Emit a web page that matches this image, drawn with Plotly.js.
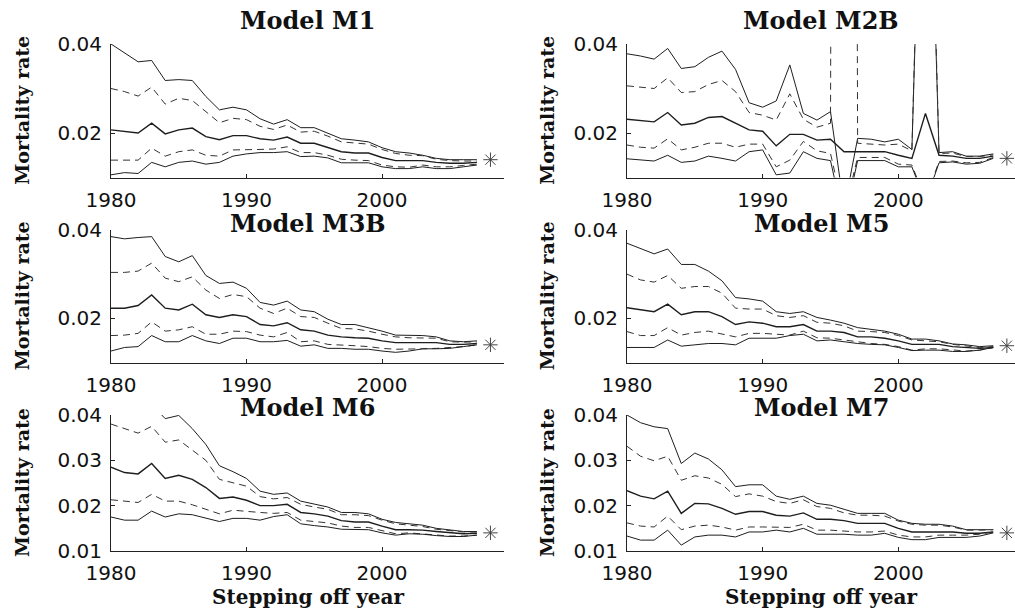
<!DOCTYPE html>
<html>
<head>
<meta charset="utf-8">
<script src="https://cdn.plot.ly/plotly-3.0.1.min.js"></script>
<style>
html,body{margin:0;padding:0;background:#fff;}
#chart{width:1015px;height:610px;}
</style>
</head>
<body>
<div id="chart"></div>
<script>
// Stepping-off years
const years = [1980,1981,1982,1983,1984,1985,1986,1987,1988,1989,1990,1991,1992,1993,
               1994,1995,1996,1997,1998,1999,2000,2001,2002,2003,2004,2005,2006,2007];
const obsYear = [2008];
const titles = ['Model M1','Model M2B','Model M3B','Model M5','Model M6','Model M7'];
const observed = [0.0140, 0.0143, 0.0140, 0.0138, 0.0140, 0.0140];

// Model M1
const m1Upper     = [0.0400,0.0380,0.0360,0.0363,0.0318,0.0320,0.0318,0.0282,0.0252,0.0258,0.0252,0.0232,0.0220,0.0230,0.0212,0.0212,0.0200,0.0187,0.0184,0.0180,0.0167,0.0158,0.0155,0.0150,0.0143,0.0140,0.0140,0.0140];
const m1UpperDash = [0.0300,0.0293,0.0283,0.0303,0.0265,0.0278,0.0273,0.0248,0.0223,0.0233,0.0230,0.0215,0.0208,0.0218,0.0202,0.0204,0.0193,0.0180,0.0178,0.0175,0.0163,0.0154,0.0150,0.0149,0.0141,0.0138,0.0137,0.0137];
const m1Mid       = [0.0207,0.0203,0.0200,0.0222,0.0198,0.0207,0.0211,0.0192,0.0185,0.0194,0.0194,0.0187,0.0184,0.0191,0.0177,0.0177,0.0168,0.0158,0.0155,0.0155,0.0145,0.0138,0.0138,0.0138,0.0134,0.0132,0.0132,0.0134];
const m1LowerDash = [0.0139,0.0139,0.0139,0.0166,0.0148,0.0158,0.0162,0.0150,0.0148,0.0162,0.0162,0.0163,0.0164,0.0169,0.0156,0.0156,0.0150,0.0141,0.0139,0.0138,0.0128,0.0124,0.0123,0.0128,0.0124,0.0124,0.0127,0.0130];
const m1Lower     = [0.0106,0.0111,0.0109,0.0134,0.0124,0.0134,0.0137,0.0130,0.0134,0.0148,0.0153,0.0156,0.0156,0.0158,0.0147,0.0148,0.0144,0.0133,0.0133,0.0133,0.0124,0.0120,0.0120,0.0124,0.0120,0.0120,0.0124,0.0128];

// Model M2B
const m2Upper     = [0.0378,0.0373,0.0366,0.0390,0.0345,0.0349,0.0370,0.0384,0.0343,0.0268,0.0258,0.0272,0.0353,0.0244,0.0229,0.0248,0.0030,0.0188,0.0186,0.0180,0.0186,0.0163,0.1200,0.0156,0.0158,0.0148,0.0148,0.0153];
const m2UpperDash = [0.0306,0.0303,0.0300,0.0324,0.0291,0.0293,0.0309,0.0318,0.0293,0.0246,0.0240,0.0229,0.0288,0.0231,0.0213,0.0222,1.0000,0.0177,0.0175,0.0173,0.0175,0.0160,0.1300,0.0154,0.0155,0.0147,0.0147,0.0151];
const m2Mid       = [0.0231,0.0228,0.0225,0.0246,0.0218,0.0222,0.0235,0.0237,0.0222,0.0207,0.0204,0.0171,0.0197,0.0197,0.0184,0.0186,0.0158,0.0158,0.0158,0.0158,0.0150,0.0143,0.0244,0.0150,0.0148,0.0143,0.0143,0.0148];
const m2LowerDash = [0.0173,0.0168,0.0166,0.0187,0.0162,0.0168,0.0177,0.0177,0.0168,0.0175,0.0175,0.0124,0.0139,0.0181,0.0160,0.0154,0.0020,0.0145,0.0145,0.0145,0.0130,0.0128,0.0050,0.0136,0.0137,0.0133,0.0134,0.0145];
const m2Lower     = [0.0142,0.0139,0.0137,0.0150,0.0134,0.0137,0.0148,0.0143,0.0137,0.0158,0.0162,0.0106,0.0110,0.0158,0.0143,0.0138,0.0000,0.0138,0.0138,0.0138,0.0124,0.0124,0.0045,0.0133,0.0135,0.0130,0.0132,0.0143];

// Model M3B
const m3Upper     = [0.0385,0.0380,0.0383,0.0385,0.0340,0.0328,0.0342,0.0297,0.0279,0.0282,0.0268,0.0236,0.0230,0.0239,0.0219,0.0215,0.0198,0.0186,0.0186,0.0179,0.0171,0.0162,0.0161,0.0161,0.0158,0.0149,0.0147,0.0149];
const m3UpperDash = [0.0304,0.0304,0.0307,0.0325,0.0291,0.0283,0.0294,0.0264,0.0245,0.0254,0.0249,0.0223,0.0211,0.0223,0.0204,0.0202,0.0189,0.0177,0.0176,0.0171,0.0164,0.0158,0.0156,0.0156,0.0155,0.0147,0.0146,0.0147];
const m3Mid       = [0.0223,0.0223,0.0229,0.0253,0.0223,0.0219,0.0232,0.0208,0.0202,0.0208,0.0204,0.0186,0.0183,0.0190,0.0174,0.0171,0.0162,0.0158,0.0156,0.0155,0.0149,0.0145,0.0145,0.0145,0.0145,0.0141,0.0141,0.0143];
const m3LowerDash = [0.0161,0.0162,0.0166,0.0192,0.0171,0.0174,0.0181,0.0164,0.0164,0.0171,0.0170,0.0162,0.0158,0.0168,0.0147,0.0149,0.0141,0.0140,0.0138,0.0136,0.0132,0.0130,0.0130,0.0131,0.0132,0.0134,0.0136,0.0140];
const m3Lower     = [0.0126,0.0134,0.0136,0.0161,0.0147,0.0147,0.0161,0.0149,0.0143,0.0155,0.0155,0.0147,0.0147,0.0150,0.0137,0.0140,0.0132,0.0132,0.0130,0.0130,0.0126,0.0123,0.0126,0.0131,0.0131,0.0132,0.0136,0.0140];

// Model M5
const m5Upper     = [0.0370,0.0358,0.0346,0.0357,0.0322,0.0322,0.0307,0.0285,0.0247,0.0244,0.0239,0.0215,0.0211,0.0215,0.0202,0.0196,0.0189,0.0179,0.0175,0.0171,0.0164,0.0153,0.0153,0.0149,0.0142,0.0140,0.0136,0.0138];
const m5UpperDash = [0.0300,0.0287,0.0282,0.0297,0.0268,0.0272,0.0272,0.0257,0.0223,0.0221,0.0221,0.0206,0.0202,0.0206,0.0191,0.0189,0.0183,0.0171,0.0170,0.0168,0.0161,0.0151,0.0149,0.0147,0.0141,0.0137,0.0134,0.0136];
const m5Mid       = [0.0224,0.0219,0.0215,0.0232,0.0208,0.0215,0.0215,0.0204,0.0186,0.0192,0.0189,0.0181,0.0181,0.0186,0.0171,0.0171,0.0168,0.0158,0.0158,0.0155,0.0149,0.0141,0.0141,0.0141,0.0136,0.0134,0.0132,0.0134];
const m5LowerDash = [0.0170,0.0161,0.0161,0.0179,0.0162,0.0168,0.0171,0.0164,0.0158,0.0166,0.0166,0.0164,0.0162,0.0171,0.0156,0.0155,0.0151,0.0147,0.0143,0.0141,0.0136,0.0128,0.0131,0.0131,0.0128,0.0126,0.0128,0.0134];
const m5Lower     = [0.0134,0.0134,0.0134,0.0151,0.0137,0.0140,0.0143,0.0143,0.0140,0.0155,0.0155,0.0155,0.0161,0.0164,0.0149,0.0151,0.0147,0.0143,0.0141,0.0140,0.0134,0.0127,0.0128,0.0128,0.0125,0.0125,0.0128,0.0134];

// Model M6
const m6Upper     = [0.0480,0.0460,0.0460,0.0423,0.0392,0.0399,0.0370,0.0335,0.0288,0.0275,0.0260,0.0232,0.0225,0.0228,0.0210,0.0203,0.0197,0.0185,0.0185,0.0182,0.0170,0.0163,0.0160,0.0157,0.0150,0.0146,0.0143,0.0143];
const m6UpperDash = [0.0380,0.0370,0.0360,0.0375,0.0340,0.0345,0.0322,0.0300,0.0258,0.0250,0.0243,0.0220,0.0215,0.0218,0.0203,0.0197,0.0192,0.0180,0.0180,0.0178,0.0168,0.0160,0.0157,0.0154,0.0148,0.0145,0.0142,0.0142];
const m6Mid       = [0.0285,0.0273,0.0270,0.0293,0.0260,0.0267,0.0258,0.0240,0.0216,0.0219,0.0212,0.0200,0.0200,0.0203,0.0185,0.0182,0.0177,0.0167,0.0164,0.0164,0.0155,0.0147,0.0147,0.0146,0.0143,0.0140,0.0138,0.0139];
const m6LowerDash = [0.0213,0.0210,0.0207,0.0225,0.0210,0.0210,0.0202,0.0192,0.0182,0.0190,0.0187,0.0185,0.0183,0.0185,0.0168,0.0165,0.0162,0.0155,0.0152,0.0152,0.0145,0.0138,0.0140,0.0138,0.0135,0.0133,0.0133,0.0135];
const m6Lower     = [0.0175,0.0168,0.0168,0.0188,0.0175,0.0182,0.0180,0.0172,0.0165,0.0172,0.0172,0.0168,0.0176,0.0180,0.0160,0.0156,0.0153,0.0148,0.0147,0.0147,0.0140,0.0135,0.0138,0.0137,0.0134,0.0132,0.0132,0.0135];

// Model M7
const m7Upper     = [0.0400,0.0383,0.0374,0.0370,0.0293,0.0316,0.0303,0.0279,0.0242,0.0246,0.0246,0.0221,0.0214,0.0221,0.0205,0.0201,0.0192,0.0183,0.0183,0.0183,0.0168,0.0161,0.0159,0.0159,0.0155,0.0147,0.0147,0.0147];
const m7UpperDash = [0.0331,0.0309,0.0299,0.0309,0.0256,0.0266,0.0261,0.0247,0.0220,0.0226,0.0221,0.0209,0.0205,0.0213,0.0198,0.0194,0.0184,0.0179,0.0179,0.0177,0.0166,0.0159,0.0157,0.0157,0.0153,0.0146,0.0146,0.0147];
const m7Mid       = [0.0233,0.0221,0.0215,0.0232,0.0183,0.0205,0.0204,0.0194,0.0181,0.0187,0.0187,0.0179,0.0177,0.0184,0.0170,0.0170,0.0167,0.0161,0.0161,0.0161,0.0150,0.0142,0.0142,0.0142,0.0142,0.0139,0.0139,0.0142];
const m7LowerDash = [0.0162,0.0155,0.0153,0.0177,0.0147,0.0155,0.0157,0.0153,0.0146,0.0153,0.0153,0.0152,0.0152,0.0159,0.0146,0.0146,0.0144,0.0142,0.0142,0.0144,0.0135,0.0131,0.0131,0.0135,0.0135,0.0135,0.0137,0.0142];
const m7Lower     = [0.0133,0.0124,0.0124,0.0146,0.0113,0.0131,0.0135,0.0135,0.0131,0.0142,0.0142,0.0146,0.0142,0.0150,0.0137,0.0137,0.0137,0.0135,0.0135,0.0139,0.0130,0.0125,0.0125,0.0130,0.0130,0.0130,0.0133,0.0140];

const panels = [
  [m1Upper, m1UpperDash, m1Mid, m1LowerDash, m1Lower],
  [m2Upper, m2UpperDash, m2Mid, m2LowerDash, m2Lower],
  [m3Upper, m3UpperDash, m3Mid, m3LowerDash, m3Lower],
  [m5Upper, m5UpperDash, m5Mid, m5LowerDash, m5Lower],
  [m6Upper, m6UpperDash, m6Mid, m6LowerDash, m6Lower],
  [m7Upper, m7UpperDash, m7Mid, m7LowerDash, m7Lower]
];
const seriesNames = ['Upper bound','Upper quartile','Median','Lower quartile','Lower bound'];

const lineCol = '#1e1e1e';
const styles = [
  {color: lineCol, width: 1, dash: 'solid'},
  {color: '#333', width: 1, dash: '7px,5px'},
  {color: lineCol, width: 1.4, dash: 'solid'},
  {color: '#333', width: 1, dash: '7px,5px'},
  {color: lineCol, width: 1, dash: 'solid'}
];

const W = 1015, H = 610;
const colDom = [[111/W, 504/W], [627/W, 1.0]];
const colRange = [[1980, 2009], [1980, 2008.6]];
const rowDom = [[1 - 177.5/H, 1 - 44/H], [1 - 362.5/H, 1 - 230/H], [1 - 551/H, 1 - 415/H]];

const traces = [];
const layout = {
  width: W, height: H,
  margin: {l: 0, r: 0, t: 0, b: 0},
  paper_bgcolor: '#fff', plot_bgcolor: '#fff',
  showlegend: false,
  annotations: []
};

const tickFont = {family: 'DejaVu Sans, sans-serif', size: 20, color: '#111'};
const serifBold = {family: 'DejaVu Serif, serif', color: '#111', weight: 'bold'};

panels.forEach((p, i) => {
  const col = i % 2, row = Math.floor(i / 2);
  const ax = i === 0 ? '' : String(i + 1);
  p.forEach((vals, k) => {
    traces.push({
      x: years, y: vals, type: 'scatter', mode: 'lines',
      name: seriesNames[k], xaxis: 'x' + ax, yaxis: 'y' + ax,
      line: styles[k], hoverinfo: 'skip'
    });
  });
  traces.push({
    x: obsYear, y: [observed[i]], type: 'scatter', mode: 'markers',
    name: 'Observed', xaxis: 'x' + ax, yaxis: 'y' + ax,
    marker: {symbol: 'asterisk-open', size: 12, color: '#444', line: {color: '#444', width: 1}},
    cliponaxis: false
  });
  const yt = row === 2 ? [0.01, 0.02, 0.03, 0.04] : [0.02, 0.04];
  layout['xaxis' + ax] = {
    domain: colDom[col], range: colRange[col], anchor: 'y' + ax,
    showgrid: false, zeroline: false, showline: true, linecolor: '#222', linewidth: 1,
    ticks: 'inside', ticklen: 4, tickcolor: '#222', tickwidth: 1,
    tickvals: [1980, 1990, 2000], ticktext: ['1980', '1990', '2000'],
    tickfont: tickFont, ticklabelstandoff: 4
  };
  layout['yaxis' + ax] = {
    domain: rowDom[row], range: [0.01, 0.04], anchor: 'x' + ax,
    showgrid: false, zeroline: false, showline: true, linecolor: '#222', linewidth: 1,
    ticks: 'inside', ticklen: 4, tickcolor: '#222', tickwidth: 1,
    tickvals: yt, ticktext: yt.map(v => v.toFixed(2)),
    tickfont: tickFont, ticklabelstandoff: 4
  };
  const cx = (colDom[col][0] + colDom[col][1]) / 2;
  const cy = (rowDom[row][0] + rowDom[row][1]) / 2;
  const titleY = [1 - 20/H, 1 - 223/H, 1 - 407/H][row];
  layout.annotations.push({
    text: titles[i], xref: 'paper', yref: 'paper', x: cx, y: titleY,
    xanchor: 'center', yanchor: 'middle', showarrow: false,
    font: Object.assign({size: 24}, serifBold)
  });
  layout.annotations.push({
    text: 'Mortality rate', xref: 'paper', yref: 'paper',
    x: [22/W, 547/W][col], y: cy, textangle: -90,
    xanchor: 'center', yanchor: 'middle', showarrow: false,
    font: Object.assign({size: 19}, serifBold)
  });
  if (row === 2) {
    layout.annotations.push({
      text: 'Stepping off year', xref: 'paper', yref: 'paper',
      x: cx, y: 1 - 597/H, xanchor: 'center', yanchor: 'middle', showarrow: false,
      font: Object.assign({size: 20}, serifBold)
    });
  }
});

Plotly.newPlot('chart', traces, layout, {displayModeBar: false, staticPlot: true});
</script>
</body>
</html>
